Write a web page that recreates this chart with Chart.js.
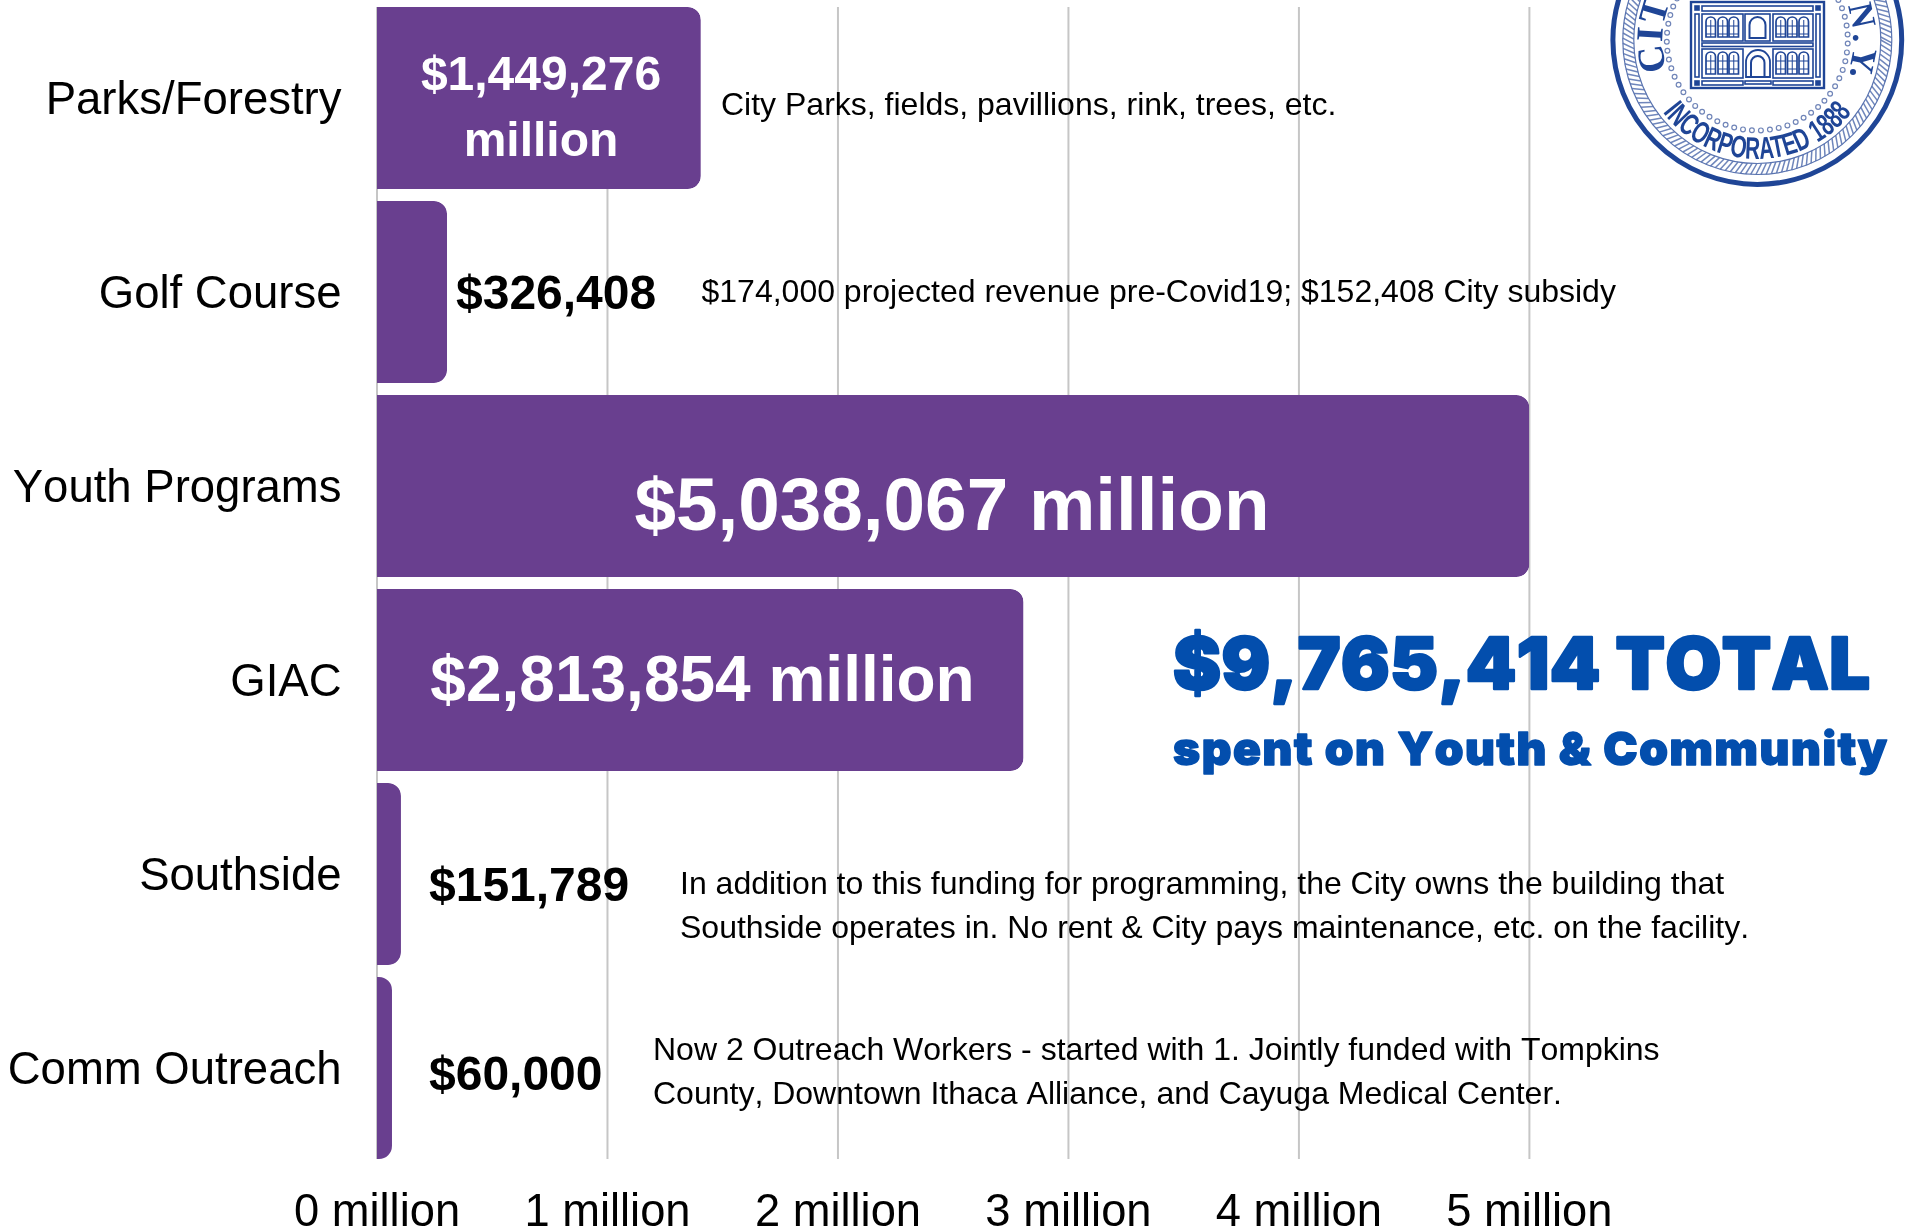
<!DOCTYPE html>
<html><head><meta charset="utf-8">
<style>html,body{margin:0;padding:0;background:#fff;overflow:hidden}#wrap{position:relative;width:1909px;height:1228px}canvas{position:absolute;left:0;top:0}svg{position:absolute;left:0;top:0}</style>
<script src="https://cdn.jsdelivr.net/npm/chart.js@4"></script>
</head><body><div id="wrap"><canvas id="c" width="1909" height="1228"></canvas>
<svg id="seal" width="1909" height="1228" viewBox="0 0 1909 1228"></svg></div>
<script>
const categories = ["Parks/Forestry","Golf Course","Youth Programs","GIAC","Southside","Comm Outreach"];
const barValues = [1.405,0.304,5.0,2.805,0.104,0.065];
const tickValues = [0,1,2,3,4,5];
const valueLabels = [["$1,449,276","million"],["$326,408"],["$5,038,067 million"],["$2,813,854 million"],["$151,789"],["$60,000"]];
const notes = [["City Parks, fields, pavillions, rink, trees, etc."],["$174,000 projected revenue pre-Covid19; $152,408 City subsidy"],[],[],["In addition to this funding for programming, the City owns the building that","Southside operates in. No rent & City pays maintenance, etc. on the facility."],["Now 2 Outreach Workers - started with 1. Jointly funded with Tompkins","County, Downtown Ithaca Alliance, and Cayuga Medical Center."]];
const totalLines = ["$9,765,414 TOTAL","spent on Youth & Community"];

const SANS='"Liberation Sans",Arial,sans-serif';
const PURPLE='#693f8f',BLUE='#034ead',GRID='#c6c6c6',RADIUS=13;
const labelStyle=[{x:541,ys:[77,143],s:48,c:'#fff',a:'center'},{x:456,ys:[296],s:48,c:'#000',a:'left'},{x:952,ys:[509],s:74.7,c:'#fff',a:'center'},{x:702.5,ys:[683],s:64,c:'#fff',a:'center'},{x:429,ys:[888],s:48,c:'#000',a:'left'},{x:429,ys:[1077],s:48,c:'#000',a:'left'}];
const noteStyle=[{x:721,ys:[106]},{x:701.5,ys:[293]},{},{},{x:680,ys:[885,929]},{x:653,ys:[1051,1095]}];

function fitted(ctx,t,font,x,y,target,sw){
 ctx.font=font;ctx.letterSpacing='0px';
 const w=ctx.measureText(t).width;ctx.letterSpacing=((target-w)/(t.length-1))+'px';
 ctx.lineWidth=sw;ctx.strokeText(t,x,y);ctx.fillText(t,x,y);ctx.letterSpacing='0px';
}
const overlay={id:'overlay',
 beforeDraw(ch){ch.ctx.fontKerning='none';
  const items=ch.scales.y.getLabelItems(ch.chartArea);
  if(!items._moved){items.forEach(it=>{it.options.translation=[it.options.translation[0],it.options.translation[1]+3.6];});items._moved=true;}},
 beforeDatasetsDraw(ch){const {ctx,scales:{x}}=ch;ctx.save();ctx.strokeStyle=GRID;ctx.lineWidth=2;
  tickValues.forEach(v=>{const p=x.getPixelForValue(v);ctx.beginPath();ctx.moveTo(p,7);ctx.lineTo(p,1159);ctx.stroke();});
  ctx.fillStyle=BLUE;ctx.strokeStyle=BLUE;ctx.lineJoin='round';ctx.textBaseline='alphabetic';ctx.textAlign='left';
  fitted(ctx,totalLines[0],'900 72px Inter,sans-serif',1173,689,697,2.5);
  fitted(ctx,totalLines[1],'900 46px Inter,sans-serif',1173,765,714,1.5);
  ctx.restore();},
 beforeDatasetDraw(ch,args){ // keeps the full corner radius on the narrowest bars
  const ctx=ch.ctx;ctx.save();ctx.beginPath();
  args.meta.data.forEach(el=>{const p=el.getProps(['x','y','base','height'],true);
   ctx.roundRect(p.base,p.y-p.height/2,p.x-p.base,p.height,[0,RADIUS,RADIUS,0]);});
  ctx.clip();},
 afterDatasetDraw(ch){ch.ctx.restore();},
 afterDatasetsDraw(ch){const {ctx}=ch;ctx.save();ctx.textBaseline='middle';
  valueLabels.forEach((lines,i)=>{const st=labelStyle[i];ctx.font='bold '+st.s+'px '+SANS;ctx.fillStyle=st.c;ctx.textAlign=st.a;
   lines.forEach((t,j)=>ctx.fillText(t,st.x,st.ys[j]));});
  ctx.font='32px '+SANS;ctx.fillStyle='#000';ctx.textAlign='left';
  notes.forEach((lines,i)=>lines.forEach((t,j)=>ctx.fillText(t,noteStyle[i].x,noteStyle[i].ys[j])));
  ctx.restore();}};

new Chart(document.getElementById('c'),{type:'bar',
 data:{labels:categories,datasets:[{data:barValues,backgroundColor:PURPLE,borderWidth:0,
   borderRadius:{topLeft:0,bottomLeft:0,topRight:RADIUS,bottomRight:RADIUS},borderSkipped:false,
   barPercentage:182/194,categoryPercentage:1}]},
 options:{indexAxis:'y',responsive:false,animation:false,devicePixelRatio:1,
  layout:{padding:{top:1,right:379.6,left:0,bottom:0}},
  plugins:{legend:{display:false},tooltip:{enabled:false},title:{display:false}},
  scales:{
   x:{type:'linear',min:0,max:5,afterFit(s){s.height=63;s.paddingLeft=0;s.paddingRight=0;},
      afterBuildTicks(s){s.ticks=tickValues.map(v=>({value:v}));},
      grid:{display:false,drawTicks:false},border:{display:false},
      ticks:{autoSkip:false,maxRotation:0,padding:21,color:'#000',font:{family:SANS,size:45.3},callback:v=>v+' million'}},
   y:{type:'category',afterFit(s){s.width=377;s.paddingTop=0;s.paddingBottom=0;},grid:{display:false,drawTicks:false},border:{display:false},
      ticks:{padding:35.5,color:'#000',autoSkip:false,font:{family:SANS,size:45.5}}}
  }},plugins:[overlay]});

(function(){
 const C='#1f4596',cx=1757.3,cy=40;let h='';
 const rect=(x,y,w,h2,sw=1.6,fill='none')=>`<rect x="${x}" y="${y}" width="${w}" height="${h2}" fill="${fill}" stroke="${C}" stroke-width="${sw}"/>`;
 const pt=(r,a)=>[(cx+r*Math.cos(a*Math.PI/180)).toFixed(1),(cy+r*Math.sin(a*Math.PI/180)).toFixed(1)];
 h+=`<circle cx="${cx}" cy="${cy}" r="144.4" fill="#fff" stroke="${C}" stroke-width="5"/>`;
 for(let a=0;a<360;a+=2.2){const p=pt(123.5,a),q=pt(134.5,a+2.6);h+=`<path d="M${p[0]} ${p[1]} L${q[0]} ${q[1]}" stroke="#6f86bb" stroke-width="1.5"/>`;}
 h+=`<circle cx="${cx}" cy="${cy}" r="123.5" fill="none" stroke="#5a74b0" stroke-width="1.2"/><circle cx="${cx}" cy="${cy}" r="134.5" fill="none" stroke="#5a74b0" stroke-width="1.2"/>`;
 for(let a=-32;a<=212;a+=5.7){const p=pt(90.5,a);
   h+=`<circle cx="${p[0]}" cy="${p[1]}" r="2.4" fill="#fff" stroke="#7085b8" stroke-width="1.2"/>`;}
 const s=pt(119,143),e=pt(119,37);
 h+=`<path id="incA" d="M ${s[0]} ${s[1]} A 119 119 0 0 0 ${e[0]} ${e[1]}" fill="none"/>`;
 h+=`<text font-family="'Liberation Sans Narrow','Liberation Sans',sans-serif" font-weight="700" font-size="31" fill="${C}"><textPath href="#incA" startOffset="50%" text-anchor="middle" textLength="218" lengthAdjust="spacingAndGlyphs">INCORPORATED 1888</textPath></text>`;
 const c1=pt(95,161.5),c2=pt(95,262);
 h+=`<path id="cityA" d="M ${c1[0]} ${c1[1]} A 95 95 0 0 1 ${c2[0]} ${c2[1]}" fill="none"/>`;
 h+=`<text font-family="'Liberation Serif',serif" font-weight="700" font-size="38" letter-spacing="1" fill="${C}"><textPath href="#cityA">CITY</textPath></text>`;
 const n1=pt(96,275),n2=pt(96,20);
 h+=`<path id="nyA" d="M ${n1[0]} ${n1[1]} A 96 96 0 0 1 ${n2[0]} ${n2[1]}" fill="none"/>`;
 h+=`<text font-family="'Liberation Serif',serif" font-weight="700" font-size="35" letter-spacing="3" fill="${C}"><textPath href="#nyA" startOffset="100%" text-anchor="end">N.Y</textPath></text>`;
 h+=`<circle cx="1853" cy="72" r="3" fill="${C}"/>`;
 h+=`<rect x="1691" y="2" width="133" height="86" fill="#fff" stroke="${C}" stroke-width="2.4"/>`;
 h+=rect(1702,6,111,5)+rect(1702,43,111,3.5)+rect(1702,81,41,4)+rect(1745,81,26,3)+rect(1773,81,40,4);
 h+=rect(1695,6,4,4,1.6,C)+rect(1816,6,4,4,1.6,C)+rect(1695,81,4,4,1.6,C)+rect(1816,81,4,4,1.6,C);
 h+=rect(1695,14,4,63)+rect(1816,14,4,63);
 const arch=(x,y,w,hh,sw=1.6)=>`<path d="M${x} ${y+hh} V${y+w/2} A${w/2} ${w/2} 0 0 1 ${x+w} ${y+w/2} V${y+hh} Z" fill="none" stroke="${C}" stroke-width="${sw}"/>`;
 [[14,41],[49,78]].forEach(([t,b])=>{
  h+=rect(1702,t,41,b-t)+rect(1773,t,40,b-t);
  [1706,1718,1729,1776,1787.5,1799].forEach(x=>{
   h+=arch(x,t+3,9.5,b-t-7,1.7);
   h+=`<path d="M${x+4.75} ${t+6} V${b-4} M${x} ${t+12} H${x+9.5} M${x} ${t+20} H${x+9.5}" stroke="${C}" stroke-width="1"/>`;});
 });
 h+=rect(1745,14,25,27)+arch(1749.5,17,16,21,2);
 h+=arch(1751,56,13.5,21,2)+arch(1746,50,24,27,1.8);
 document.getElementById('seal').innerHTML=h;
})();
</script></body></html>
